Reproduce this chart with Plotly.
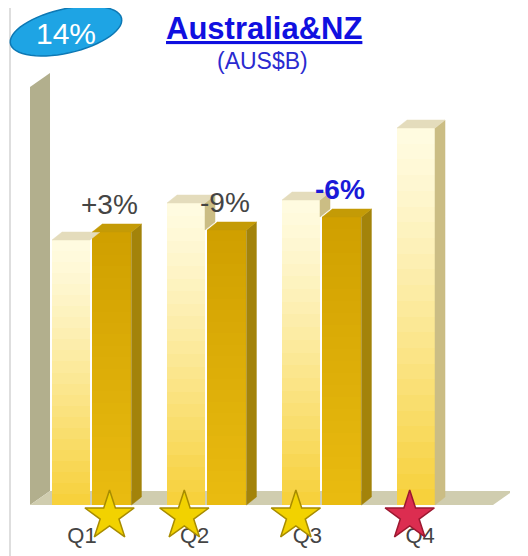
import numpy as np
import plotly.graph_objects as go

# ---------------- data ----------------
quarters = ["Q1", "Q2", "Q3", "Q4"]
prev_year = [2.65, 3.02, 3.05, 3.77]      # light bars (AUS$B)
this_year = [2.73, 2.75, 2.88]            # dark bars (AUS$B)
change_labels = ["+3%", "-9%", "-6%"]
highlight_label = 2                       # index of the bold blue label
star_colors = ["gold", "gold", "gold", "red"]
badge_text = "14%"
title_text = "Australia&NZ"
subtitle_text = "(AUS$B)"

# ---------------- geometry / style ----------------
W, H = 528, 556
PAGE = 8                                   # browser body margin
PL, PR, PT, PB = 30, 510, 70, 553          # plot area in window pixels
ML, MR, MT, MB = PL - PAGE, W - (PR - PAGE), PT - PAGE, H - (PB - PAGE)
XR = [-0.5217, 3.652]
YR = [-0.48, 4.35]
LIGHT_OFF, LIGHT_W = -0.33, 0.33
DARK_OFF, DARK_W = 0.02, 0.34
DX, DY = 0.087, 0.08          # bar depth
FDX, FDY = 0.174, 0.14        # floor / wall depth
N = 24
FONT = "Liberation Sans, Arial"

def lerp(c1, c2, t):
    a = [int(c1[i:i + 2], 16) for i in (1, 3, 5)]
    b = [int(c2[i:i + 2], 16) for i in (1, 3, 5)]
    return "rgb(%d,%d,%d)" % tuple(round(a[j] + (b[j] - a[j]) * t) for j in range(3))

fig = go.Figure()
xi = list(range(len(quarters)))

# gradient front faces (overlayed bars)
for k in range(N):
    t = k / (N - 1)
    fig.add_trace(go.Bar(x=xi, y=[h * (1 - k / N) for h in prev_year],
                         offset=LIGHT_OFF, width=LIGHT_W,
                         marker=dict(color=lerp("#fffbe0", "#f7d13c", t ** 1.2), line_width=0),
                         hoverinfo="skip", showlegend=False))
for k in range(N):
    t = k / (N - 1)
    fig.add_trace(go.Bar(x=xi[:len(this_year)], y=[h * (1 - k / N) for h in this_year],
                         offset=DARK_OFF, width=DARK_W,
                         marker=dict(color=lerp("#d0a000", "#e9bb10", t), line_width=0),
                         hoverinfo="skip", showlegend=False))

def faces(i, h, off, w, clip=None):
    xl = i + off
    xr = xl + w
    top = [xl, xl + DX, xr + DX, xr, xl], [h, h + DY, h + DY, h, h]
    lo = 0 if clip is None else clip
    side = [xr, xr + DX, xr + DX, xr, xr], [lo, lo + DY, h + DY, h, lo]
    return top, side

def add_poly(polys, color):
    xs, ys = [], []
    for pxs, pys in polys:
        xs += pxs + [None]
        ys += pys + [None]
    fig.add_trace(go.Scatter(x=xs, y=ys, mode="lines", fill="toself", fillcolor=color,
                             line=dict(color=color, width=0.5), hoverinfo="skip", showlegend=False))

lt, ls, dt, ds = [], [], [], []
for i, h in enumerate(prev_year):
    dh = this_year[i] if i < len(this_year) else None
    top, side = faces(i, h, LIGHT_OFF, LIGHT_W, clip=dh)
    lt.append(top)
    if dh is None or h > dh:
        ls.append(side)
for i, h in enumerate(this_year):
    top, side = faces(i, h, DARK_OFF, DARK_W)
    dt.append(top)
    ds.append(side)
add_poly(ls, "#cbbd84")
add_poly(lt, "#e4dcbc")
add_poly(ds, "#a3830a")
add_poly(dt, "#c49b06")

# quarter labels (drawn under the stars)
fig.add_trace(go.Scatter(
    x=[i - 0.07 - 0.02 * i for i in xi], y=[-0.32] * len(xi), mode="text", text=quarters,
    textposition="middle center", textfont=dict(family=FONT, size=22, color="#444444"),
    hoverinfo="skip", showlegend=False))

# stars
star_offsets = [0.17, -0.18, -0.21, -0.22]
fig.add_trace(go.Scatter(
    x=[i + o for i, o in zip(xi, star_offsets)], y=[-0.11] * len(xi), mode="markers",
    marker=dict(symbol="star", size=37,
                color=["#f2d200" if c == "gold" else "#dc2d50" for c in star_colors],
                line=dict(color=["#a88c00" if c == "gold" else "#9c1830" for c in star_colors], width=1.5)),
    hoverinfo="skip", showlegend=False))

shapes = []
# wall and floor
x0 = XR[0]
floor_x1 = 3.504
wall_top = 4.18
shapes.append(dict(type="path", xref="x", yref="y", layer="below", line=dict(width=0),
                   fillcolor="#b2af8d",
                   path=f"M{x0},0 L{x0+FDX},{FDY} L{x0+FDX},{wall_top+FDY} L{x0},{wall_top} Z"))
shapes.append(dict(type="path", xref="x", yref="y", layer="below", line=dict(width=0),
                   fillcolor="#d0cdaf",
                   path=f"M{x0},0 L{floor_x1},0 L{floor_x1+FDX},{FDY} L{x0+FDX},{FDY} Z"))

# window pixel -> paper helper for decorations
def px(x):
    return (x - PL) / (PR - PL)
def py(y):
    return (PB - y) / (PB - PT)

# frame
shapes.append(dict(type="rect", xref="paper", yref="paper", layer="below",
                   x0=px(10), x1=px(525), y0=py(580), y1=py(2),
                   line=dict(color="#dedede", width=2), fillcolor="rgba(0,0,0,0)"))
# badge ellipse
th = np.linspace(0, 2 * np.pi, 60)
ang = np.deg2rad(13)
ex = 57 * np.cos(th)
ey = 22 * np.sin(th)
bx = 66 + ex * np.cos(ang) + ey * np.sin(ang)
by = 31 - ex * np.sin(ang) + ey * np.cos(ang)
path = "M" + " L".join(f"{px(a):.4f},{py(b):.4f}" for a, b in zip(bx, by)) + " Z"
shapes.append(dict(type="path", xref="paper", yref="paper", path=path,
                   fillcolor="#1ea4e4", line=dict(color="#0d78b4", width=1.5)))

def ann(**kw):
    d = dict(showarrow=False, xanchor="center", yanchor="middle")
    d.update(kw)
    return d

annotations = []
annotations.append(ann(x=px(66), y=py(33), xref="paper", yref="paper", text=badge_text,
                       font=dict(family=FONT, size=30, color="white")))
annotations.append(ann(x=px(264), y=py(28), xref="paper", yref="paper",
                       text=f"<b><u>{title_text}</u></b>",
                       font=dict(family=FONT, size=31, color="#1010e0")))
annotations.append(ann(x=px(262), y=py(61), xref="paper", yref="paper", text=subtitle_text,
                       font=dict(family=FONT, size=23, color="#2a2ad0")))
for i, lab in enumerate(change_labels):
    hl = i == highlight_label
    annotations.append(ann(x=i + 0.17, y=this_year[i] + 0.28, xref="x", yref="y",
                           text=f"<b>{lab}</b>" if hl else lab,
                           font=dict(family=FONT, size=28,
                                     color="#1a1ad8" if hl else "#444444")))

fig.update_layout(
    width=W, height=H, margin=dict(l=ML, r=MR, t=MT, b=MB),
    paper_bgcolor="white", plot_bgcolor="white",
    barmode="overlay", bargap=0, showlegend=False,
    xaxis=dict(range=XR, visible=False, fixedrange=True),
    yaxis=dict(range=YR, visible=False, fixedrange=True),
    shapes=shapes, annotations=annotations,
)
fig.write_html("out.html")
